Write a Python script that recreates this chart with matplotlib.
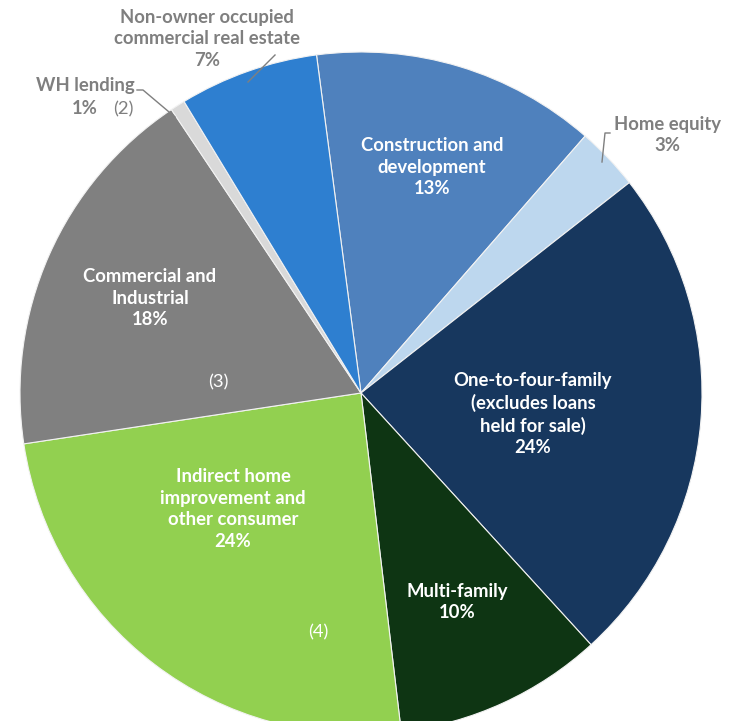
import matplotlib
matplotlib.use("Agg")
import matplotlib.pyplot as plt

# slices in clockwise order, starting at the top
categories = ["Construction and development", "Home equity",
              "One-to-four-family (excludes loans held for sale)", "Multi-family",
              "Indirect home improvement and other consumer", "Commercial and Industrial",
              "WH lending", "Non-owner occupied commercial real estate"]
shares = [13.5, 3.0, 23.8, 9.9, 24.5, 18.0, 0.7, 6.6]
pct_labels = ["13%", "3%", "24%", "10%", "24%", "18%", "1%", "7%"]
colors = ["#4F81BD", "#BDD7EE", "#17375E", "#0E3513", "#92D050", "#808080",
          "#D9D9D9", "#2E7FD0"]

# pie centre / radius in pixels of the 738x721 image
CX, CY, R = 361, 393, 341
W, H = 738, 721


def px(x, y):
    return (x - CX) / R, (CY - y) / R


fig = plt.figure(figsize=(W / 100, H / 100), dpi=100)
ax = fig.add_axes([0, 0, 1, 1])
ax.pie(shares, colors=colors, startangle=97.5, counterclock=False, radius=1,
       wedgeprops=dict(edgecolor="#F2F2F2", linewidth=0.8))
ax.set_aspect("auto")
ax.set_xlim(-CX / R, (W - CX) / R)
ax.set_ylim(-(H - CY) / R, CY / R)
ax.axis("off")

font = "Lato"
gray = "#7F7F7F"
fs = 13.3
ls = 1.32

inside = [
    ("Construction and\ndevelopment\n" + pct_labels[0], (432, 167)),
    ("One-to-four-family\n(excludes loans\nheld for sale)\n" + pct_labels[2], (533, 414)),
    ("Multi-family\n" + pct_labels[3], (457, 602)),
    ("Indirect home\nimprovement and\nother consumer\n" + pct_labels[4], (233, 509)),
    ("Commercial and\nIndustrial\n" + pct_labels[5], (150, 298)),
]
for txt, (x, y) in inside:
    ax.text(*px(x, y), txt, ha="center", va="center", color="white",
            fontsize=fs, fontweight="bold", family=font, linespacing=ls)

outside = [
    ("Home equity\n" + pct_labels[1], (667, 135)),
    ("WH lending", (85, 86)),
    (pct_labels[6], (85, 109)),
    ("Non-owner occupied\ncommercial real estate\n" + pct_labels[7], (207, 39)),
]
for txt, (x, y) in outside:
    ax.text(*px(x, y), txt, ha="center", va="center", color=gray,
            fontsize=fs, fontweight="bold", family=font, linespacing=ls)

# footnote markers
for txt, (x, y), c in [("(2)", (123, 109), gray), ("(3)", (218, 382), "white"),
                       ("(4)", (318, 632), "white")]:
    ax.text(*px(x, y), txt, ha="center", va="center", color=c,
            fontsize=fs, family=font)

# leader lines
leaders = [
    [(610, 133), (605, 133), (602, 162)],
    [(137, 90), (143, 90), (175, 117)],
    [(275, 55), (248, 82)],
]
for pts in leaders:
    xs, ys = zip(*[px(x, y) for x, y in pts])
    ax.plot(xs, ys, color=gray, linewidth=1)

fig.savefig("out.png", dpi=100)
